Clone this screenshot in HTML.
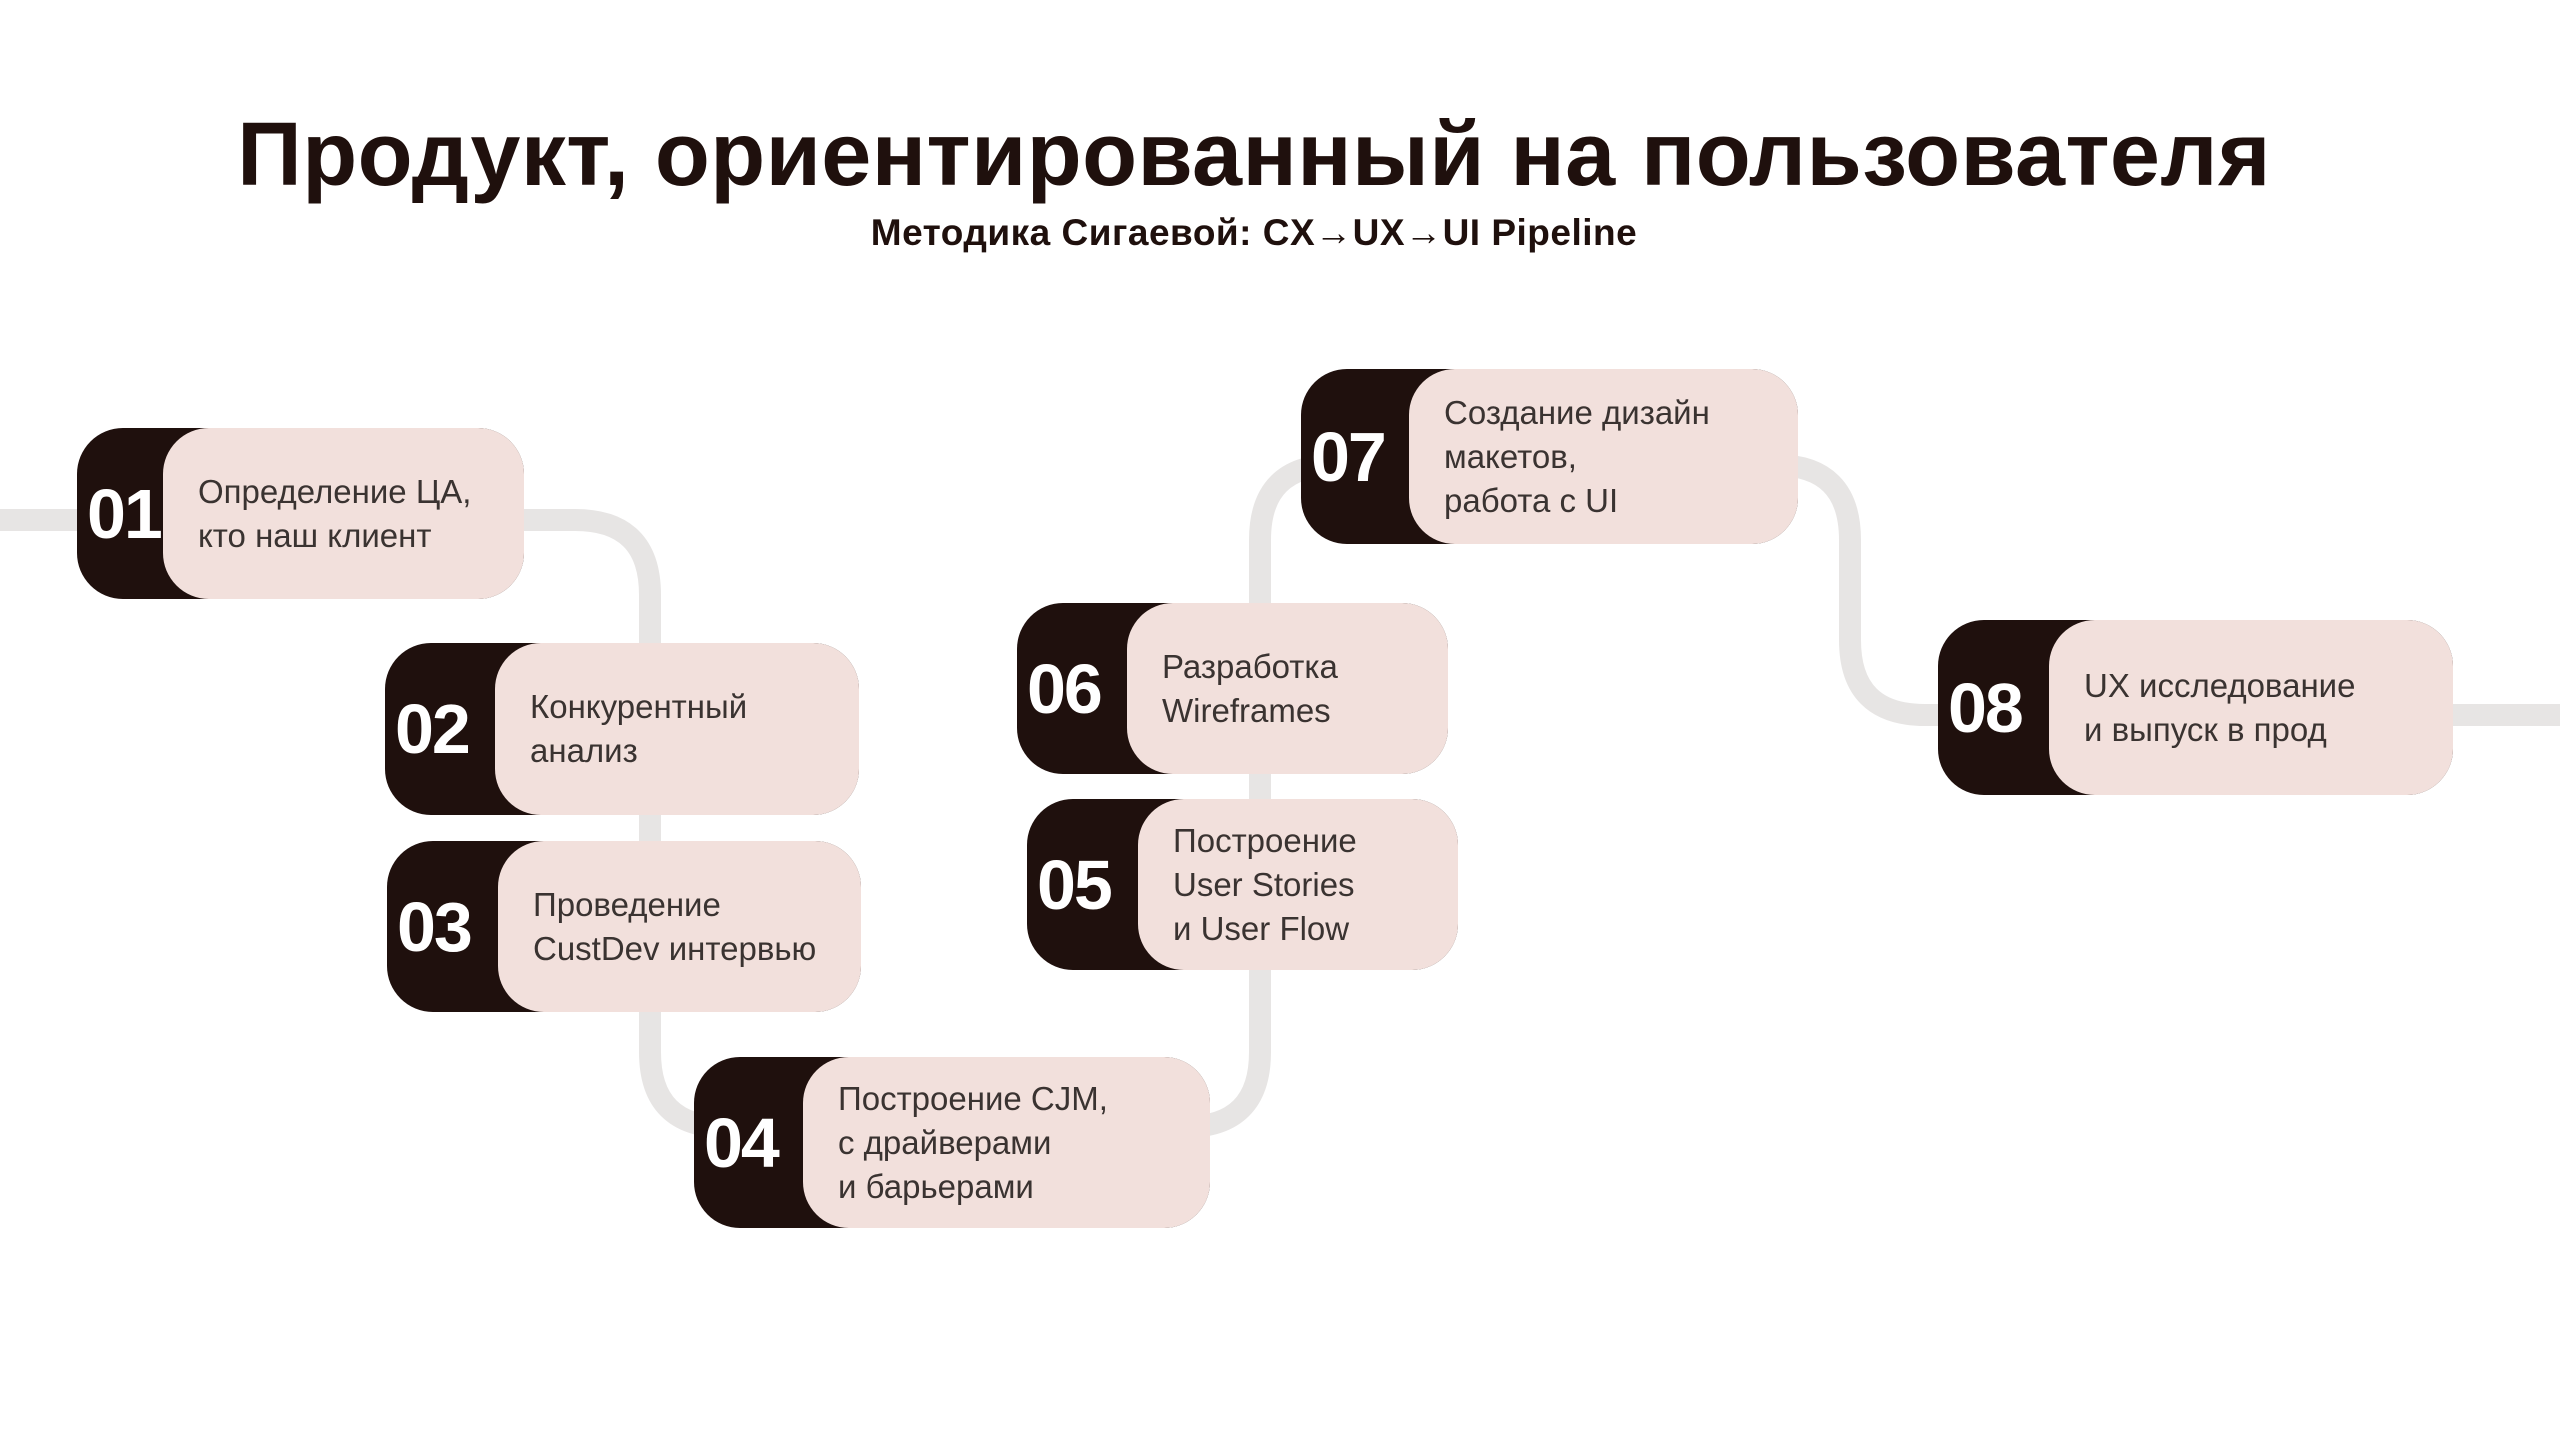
<!DOCTYPE html>
<html><head><meta charset="utf-8"><style>
body{margin:0;width:2560px;height:1437px;background:#fff;position:relative;overflow:hidden;font-family:"Liberation Sans",sans-serif}
.t{position:absolute;left:-26px;width:2560px;text-align:center;font-weight:bold;color:#1f100d}
.d{position:absolute;background:#1f100d;border-radius:46px}
.p{position:absolute;top:0;bottom:0;right:0;background:#f2e0dc;border-radius:46px;display:flex;align-items:center;padding-left:35px;box-sizing:border-box;font-size:33px;line-height:44px;color:#3a3331}
.n{position:absolute;left:10px;top:0;bottom:0;display:flex;align-items:center;color:#fff;font-weight:bold;font-size:70px;letter-spacing:-2px}
</style></head><body>
<svg width="2560" height="1437" style="position:absolute;left:0;top:0">
<path d="M0,520 H575 Q650,520 650,595 V1052 Q650,1127 725,1127 H1185 Q1260,1127 1260,1052 V540 Q1260,465 1335,465 H1775 Q1850,465 1850,540 V640 Q1850,715 1925,715 H2560" fill="none" stroke="#e7e5e4" stroke-width="22"/>
</svg>
<div class="t" style="top:104px;font-size:90px;letter-spacing:0.4px">Продукт, ориентированный на пользователя</div>
<div class="t" style="top:212px;font-size:37px;letter-spacing:0.5px">Методика Сигаевой: CX→UX→UI Pipeline</div>

<div class="d" style="left:77px;top:428px;width:447px;height:171px"><div class="n">01</div><div class="p" style="left:86px">Определение ЦА,<br>кто наш клиент</div></div>
<div class="d" style="left:385px;top:643px;width:474px;height:172px"><div class="n">02</div><div class="p" style="left:110px">Конкурентный<br>анализ</div></div>
<div class="d" style="left:387px;top:841px;width:474px;height:171px"><div class="n">03</div><div class="p" style="left:111px">Проведение<br>CustDev интервью</div></div>
<div class="d" style="left:694px;top:1057px;width:516px;height:171px"><div class="n">04</div><div class="p" style="left:109px">Построение CJM,<br>с драйверами<br>и барьерами</div></div>
<div class="d" style="left:1027px;top:799px;width:431px;height:171px"><div class="n">05</div><div class="p" style="left:111px">Построение<br>User Stories<br>и User Flow</div></div>
<div class="d" style="left:1017px;top:603px;width:431px;height:171px"><div class="n">06</div><div class="p" style="left:110px">Разработка<br>Wireframes</div></div>
<div class="d" style="left:1301px;top:369px;width:497px;height:175px"><div class="n">07</div><div class="p" style="left:108px">Создание дизайн<br>макетов,<br>работа с UI</div></div>
<div class="d" style="left:1938px;top:620px;width:515px;height:175px"><div class="n">08</div><div class="p" style="left:111px">UX исследование<br>и выпуск в прод</div></div>
</body></html>
